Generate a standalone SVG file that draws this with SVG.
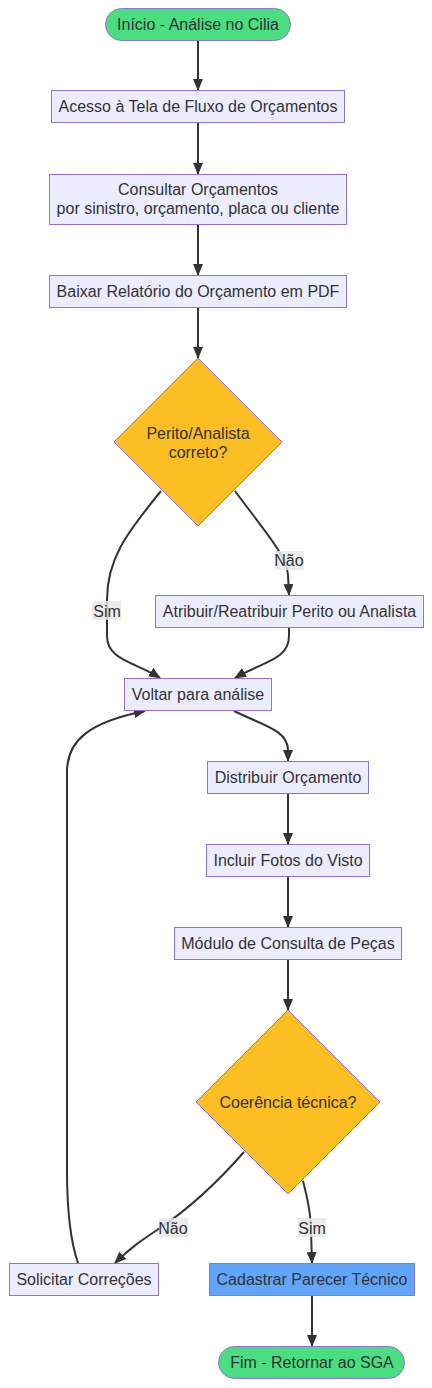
<svg xmlns="http://www.w3.org/2000/svg" width="432" height="1388" viewBox="0 0 432 1388">
<defs>
<marker id="arr" viewBox="0 0 12 10" refX="11" refY="5" markerWidth="12" markerHeight="10" markerUnits="userSpaceOnUse" orient="auto">
<path d="M0,0 L12,5 L0,10 z" fill="#333333"/>
</marker>
</defs>
<style>
text{font-family:"Liberation Sans",Arial,sans-serif;font-size:16px;fill:#333333;text-anchor:middle;dominant-baseline:central}
.box{fill:#ECECFF;stroke:#9370DB;stroke-width:1}
.term{fill:#4ADE80;stroke:#9370DB;stroke-width:1}
.dec{fill:#FBBF24;stroke:#9370DB;stroke-width:1}
.blue{fill:#60A5FA;stroke:#9370DB;stroke-width:1}
.edge{fill:none;stroke:#333333;stroke-width:2;marker-end:url(#arr)}
.edge0{fill:none;stroke:#333333;stroke-width:2}
.lbl{fill:#E8E8E8;opacity:0.85}
</style>
<rect width="432" height="1388" fill="#ffffff"/>
<g id="edges">
<path class="edge" d="M198,41 L198,90"/>
<path class="edge" d="M198,123 L198,174"/>
<path class="edge" d="M198,225 L198,275"/>
<path class="edge" d="M198,308 L198,358"/>
<path class="edge" d="M161,491 C125,535 107,560 107,600 L107,636 C107,660 135,662 160,678"/>
<path class="edge" d="M235,491 C262,528 287,555 288,575 L289,595"/>
<path class="edge" d="M289,628 L289,636 C289,660 262,662 235,678"/>
<path class="edge" d="M234,711 C262,725 288,730 288,750 L288,761"/>
<path class="edge" d="M288,794 L288,844"/>
<path class="edge" d="M288,877 L288,927"/>
<path class="edge" d="M288,960 L288,1010"/>
<path class="edge" d="M244,1152 C215,1185 190,1208 160,1228 C142,1240 130,1248 115,1263"/>
<path class="edge" d="M303,1181 C308,1200 311,1215 311,1230 L312,1263"/>
<path class="edge" d="M312,1296 L312,1346"/>
<path class="edge" d="M78,1263 C70,1240 67,1210 67,1170 L67,772 C67,740 90,722 145,711"/>
<rect class="lbl" x="92" y="601" width="29" height="19"/>
<text x="107" y="611">Sim</text>
<rect class="lbl" x="275" y="551" width="29" height="19"/>
<text x="289" y="560">Não</text>
<rect class="lbl" x="159" y="1218" width="29" height="19"/>
<text x="173" y="1228">Não</text>
<rect class="lbl" x="298" y="1218" width="28" height="19"/>
<text x="312" y="1228">Sim</text>
</g>
<g id="start">
<rect class="term" x="105.5" y="8.5" width="185" height="32" rx="16"/>
<text x="198" y="24">Início - Análise no Cilia</text>
</g>
<g id="acesso">
<rect class="box" x="51.5" y="90.5" width="293" height="32"/>
<text x="198" y="106">Acesso à Tela de Fluxo de Orçamentos</text>
</g>
<g id="consultar">
<rect class="box" x="49.5" y="174.5" width="297" height="50"/>
<text x="198" y="189">Consultar Orçamentos</text>
<text x="198" y="208">por sinistro, orçamento, placa ou cliente</text>
</g>
<g id="baixar">
<rect class="box" x="49.5" y="275.5" width="297" height="32"/>
<text x="198" y="291">Baixar Relatório do Orçamento em PDF</text>
</g>
<g id="perito">
<polygon class="dec" points="198,358 282,442 198,526 114,442"/>
<text x="198" y="433">Perito/Analista</text>
<text x="198" y="452">correto?</text>
</g>
<g id="atribuir">
<rect class="box" x="155.5" y="595.5" width="268" height="32"/>
<text x="289.5" y="611">Atribuir/Reatribuir Perito ou Analista</text>
</g>
<g id="voltar">
<rect class="box" x="124.5" y="678.5" width="147" height="32"/>
<text x="198" y="694">Voltar para análise</text>
</g>
<g id="distribuir">
<rect class="box" x="207.5" y="761.5" width="161" height="32"/>
<text x="288" y="777">Distribuir Orçamento</text>
</g>
<g id="fotos">
<rect class="box" x="206.5" y="844.5" width="163" height="32"/>
<text x="288" y="860">Incluir Fotos do Visto</text>
</g>
<g id="modulo">
<rect class="box" x="174.5" y="927.5" width="227" height="32"/>
<text x="288" y="943">Módulo de Consulta de Peças</text>
</g>
<g id="coerencia">
<polygon class="dec" points="288,1010 380,1102 288,1194 196,1102"/>
<text x="288" y="1102">Coerência técnica?</text>
</g>
<g id="solicitar">
<rect class="box" x="9.5" y="1263.5" width="149" height="32"/>
<text x="84" y="1279">Solicitar Correções</text>
</g>
<g id="cadastrar">
<rect class="blue" x="209.5" y="1263.5" width="205" height="32"/>
<text x="312" y="1279">Cadastrar Parecer Técnico</text>
</g>
<g id="fim">
<rect class="term" x="218.5" y="1346.5" width="186" height="32" rx="16"/>
<text x="312" y="1362">Fim - Retornar ao SGA</text>
</g>
</svg>
